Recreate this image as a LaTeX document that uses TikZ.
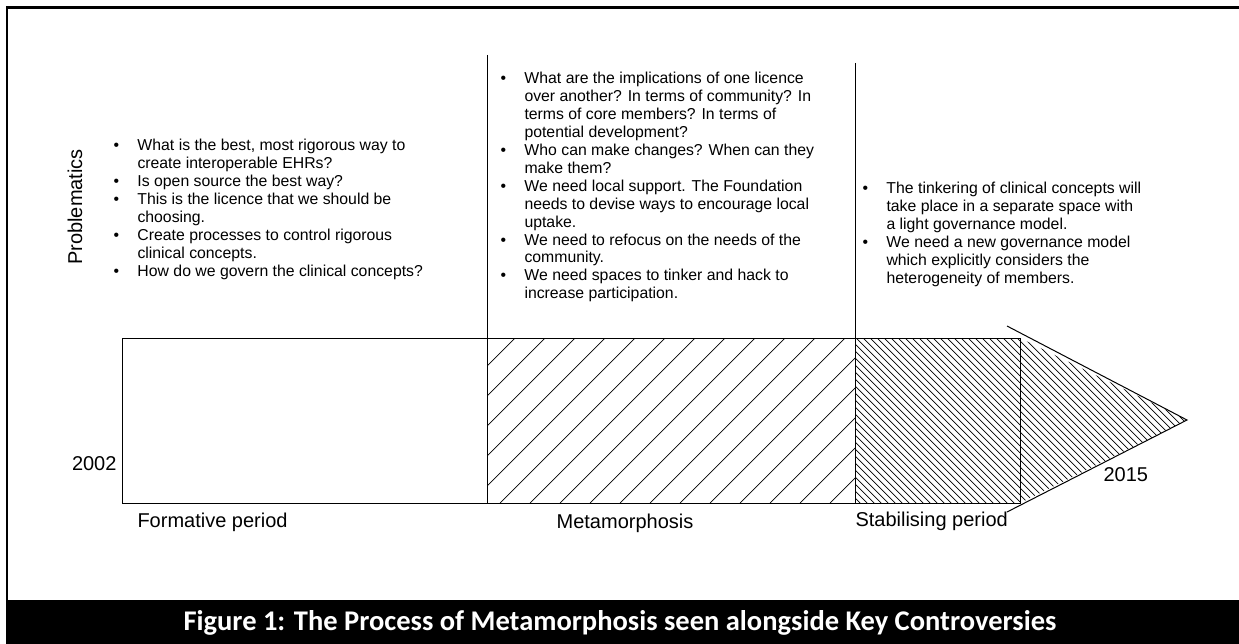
\documentclass[tikz,border=0pt]{standalone}
\usepackage{fontspec}
\setmainfont{Liberation Sans}
\newfontfamily\capfont{Carlito}
\newcommand\bul{\makebox[24pt][l]{\textbullet}}
\newcommand\cnt{\hspace*{24pt}}
\begin{document}
\begin{tikzpicture}[x=1pt,y=-1pt,line width=1pt,
  bodytext/.style={font=\fontsize{15.8}{17.9}\selectfont, align=left, inner sep=0pt, anchor=north west},
  lbl/.style={font=\fontsize{20}{24}\selectfont, inner sep=0pt},
  hatch/.style={line width=0.7pt}]
\useasboundingbox (0,0) rectangle (1239,644);
% frame and caption band
\fill (6,600) rectangle (1239,644);
\draw[line width=2.5pt] (7,601) -- (7,7.5) -- (1239,7.5);
\node[text=white, font=\capfont\bfseries\fontsize{28.5}{32}\selectfont, inner sep=0pt] (cap) at (620,623)
  {Figure 1: The Process of Metamorphosis seen alongside Key Controversies};
% coordinates
\coordinate (barNW) at (122,338);
\coordinate (barSE) at (1020,503);
\coordinate (tip) at (1187,420);
% hatch of metamorphosis section
\begin{scope}
  \clip (487,338) rectangle (855,503);
  \foreach \c in {823,853,...,1363} \draw[hatch] ({\c-338},338) -- ({\c-503},503);
\end{scope}
% dense hatch of stabilising section and arrow head
\begin{scope}
  \clip (855,338) -- (1020,338) -- (tip) -- (1020,503) -- (855,503) -- cycle;
  \foreach \c in {343,350,...,860} \draw[hatch] ({\c+338},338) -- ({\c+503},503);
\end{scope}
% bar
\draw (barNW) rectangle (barSE);
\draw (487,55) -- (487,503);
\draw (855,63) -- (855,503);
\draw (1007,326) -- (tip) -- (1007,512);
% texts
\node[lbl, rotate=90] (prob) at (75,207) {Problematics};
\node[lbl, anchor=east] (y2002) at (117,464) {2002};
\node[lbl, anchor=west] (y2015) at (1103,475) {2015};
\node[lbl, anchor=west] (form) at (137,522) {Formative period};
\node[lbl] (meta) at (625,523) {Metamorphosis};
\node[lbl, anchor=west] (stab) at (855,521) {Stabilising period};
\node[bodytext] (listA) at (113,139) {%
\bul What is the best, most rigorous way to\\
\cnt create interoperable EHRs?\\
\bul Is open source the best way?\\
\bul This is the licence that we should be\\
\cnt choosing.\\
\bul Create processes to control rigorous\\
\cnt clinical concepts.\\
\bul How do we govern the clinical concepts?};
\node[bodytext] (listB) at (500,72) {%
\bul What are the implications of one licence\\
\cnt over another? In terms of community? In\\
\cnt terms of core members? In terms of\\
\cnt potential development?\\
\bul Who can make changes? When can they\\
\cnt make them?\\
\bul We need local support. The Foundation\\
\cnt needs to devise ways to encourage local\\
\cnt uptake.\\
\bul We need to refocus on the needs of the\\
\cnt community.\\
\bul We need spaces to tinker and hack to\\
\cnt increase participation.};
\node[bodytext] (listC) at (862,182) {%
\bul The tinkering of clinical concepts will\\
\cnt take place in a separate space with\\
\cnt a light governance model.\\
\bul We need a new governance model\\
\cnt which explicitly considers the\\
\cnt heterogeneity of members.};
\end{tikzpicture}
\end{document}
